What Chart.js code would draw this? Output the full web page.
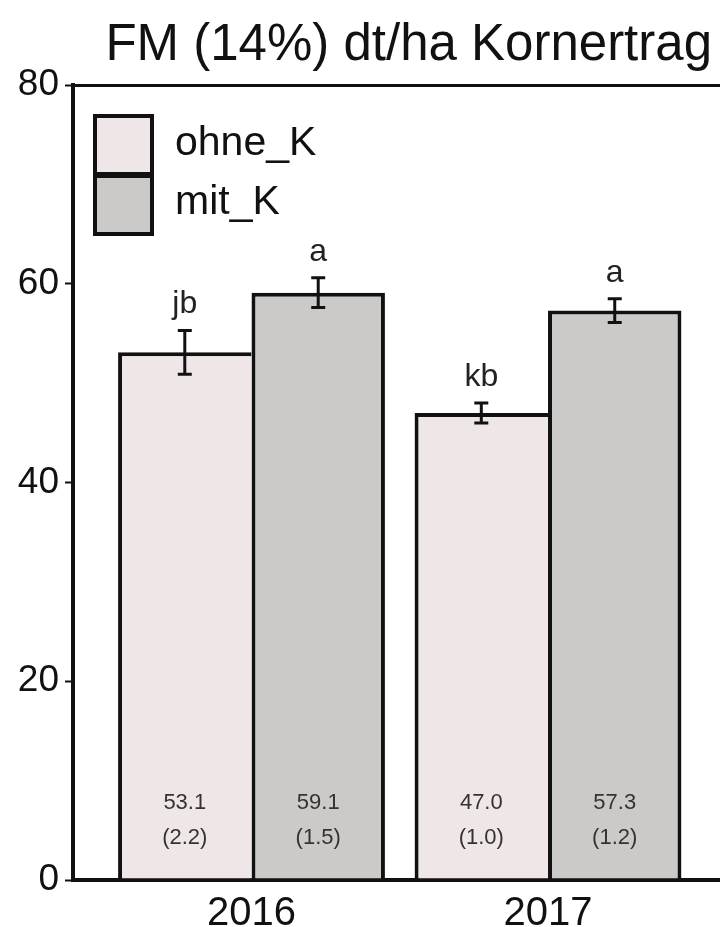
<!DOCTYPE html>
<html>
<head>
    <title>FM (14%) dt/ha Kornertrag</title>
    <script src="https://cdn.jsdelivr.net/npm/chart.js"></script>
    <style>
        body { margin: 0; background: #fff; }
        #wrap { width: 720px; height: 927px; }
    </style>
</head>
<body>
    <div id="wrap"><canvas id="yield-chart"></canvas></div>

    <script>
        // data
        const title = 'FM (14%) dt/ha Kornertrag';
        const years = ['2016', '2017'];
        const yearPos = [1, 2];
        const ohneK = [53.1, 47.0];
        const mitK = [59.1, 57.3];
        const ohneErr = [2.2, 1.0];
        const mitErr = [1.5, 1.2];
        const ohneLetters = ['jb', 'kb'];
        const mitLetters = ['a', 'a'];

        const FONT = "'Liberation Sans', Arial, sans-serif";

        // title sits right-aligned, a little in from the edge
        const topTitle = {
            id: 'topTitle',
            afterDraw(chart) {
                const ctx = chart.ctx;
                ctx.save();
                ctx.fillStyle = '#111';
                ctx.font = '51px ' + FONT;
                ctx.textAlign = 'right';
                ctx.textBaseline = 'alphabetic';
                ctx.fillText(title, chart.width - 8, 60);
                ctx.restore();
            }
        };

        // error bars, letters above them, value labels inside the bars
        const barExtras = {
            id: 'barExtras',
            afterDatasetsDraw(chart) {
                const ctx = chart.ctx;
                const y = chart.scales.y;
                const y0 = y.getPixelForValue(0);
                chart.data.datasets.forEach((ds, i) => {
                    const meta = chart.getDatasetMeta(i);
                    meta.data.forEach((bar, j) => {
                        const v = ds.data[j].y;
                        const e = ds.errors[j];
                        const top = y.getPixelForValue(v + e);
                        const bot = y.getPixelForValue(v - e);
                        const x = bar.x;
                        ctx.save();
                        ctx.strokeStyle = '#111';
                        ctx.lineWidth = 3;
                        ctx.beginPath();
                        ctx.moveTo(x, top); ctx.lineTo(x, bot);
                        ctx.moveTo(x - 7, top); ctx.lineTo(x + 7, top);
                        ctx.moveTo(x - 7, bot); ctx.lineTo(x + 7, bot);
                        ctx.stroke();

                        ctx.fillStyle = '#222';
                        ctx.textAlign = 'center';
                        ctx.textBaseline = 'alphabetic';
                        ctx.font = '32px ' + FONT;
                        ctx.fillText(ds.letters[j], x, top - 17);

                        ctx.fillStyle = '#333';
                        ctx.textBaseline = 'middle';
                        ctx.font = '22px ' + FONT;
                        ctx.fillText(v.toFixed(1), x, y0 - 77);
                        ctx.fillText('(' + e.toFixed(1) + ')', x, y0 - 42);
                        ctx.restore();
                    });
                });
            }
        };

        // stacked legend boxes like the original
        const boxLegend = {
            id: 'boxLegend',
            afterDraw(chart) {
                const ctx = chart.ctx;
                const area = chart.chartArea;
                const left = area.left + 22;
                const top = area.top + 31;
                const w = 57, h = 59;
                ctx.save();
                chart.data.datasets.forEach((ds, i) => {
                    ctx.fillStyle = ds.backgroundColor;
                    ctx.fillRect(left, top + i * h, w, h);
                    ctx.fillStyle = '#111';
                    ctx.font = '41px ' + FONT;
                    ctx.textAlign = 'left';
                    ctx.textBaseline = 'middle';
                    ctx.fillText(ds.label, left + 80, top + i * h + 28);
                });
                ctx.strokeStyle = '#111';
                ctx.lineWidth = 4;
                ctx.strokeRect(left, top, w, h * 2);
                ctx.lineWidth = 6;
                ctx.beginPath();
                ctx.moveTo(left, top + h); ctx.lineTo(left + w, top + h);
                ctx.stroke();
                ctx.restore();
            }
        };

        const ctx = document.getElementById('yield-chart').getContext('2d');
        const chart = new Chart(ctx, {
            type: 'bar',
            data: {
                datasets: [{
                    label: 'ohne_K',
                    data: yearPos.map((p, i) => ({ x: p, y: ohneK[i] })),
                    errors: ohneErr,
                    letters: ohneLetters,
                    backgroundColor: '#efe7e7',
                    borderColor: '#111',
                    borderWidth: { top: 4, left: 4, right: 0, bottom: 0 },
                    borderSkipped: false
                }, {
                    label: 'mit_K',
                    data: yearPos.map((p, i) => ({ x: p, y: mitK[i] })),
                    errors: mitErr,
                    letters: mitLetters,
                    backgroundColor: '#cccac9',
                    borderColor: '#111',
                    borderWidth: { top: 4, left: 4, right: 4, bottom: 0 },
                    borderSkipped: false
                }]
            },
            options: {
                responsive: true,
                maintainAspectRatio: false,
                animation: false,
                categoryPercentage: 0.9,
                barPercentage: 1.0,
                layout: { padding: { top: 85 } },
                plugins: {
                    legend: { display: false },
                    tooltip: { enabled: false },
                    title: { display: false }
                },
                scales: {
                    x: {
                        type: 'linear',
                        offset: false,
                        min: 0.398,
                        max: 2.58,
                        afterBuildTicks: s => { s.ticks = yearPos.map(v => ({ value: v })); },
                        afterFit: s => { s.height = 47; },
                        ticks: {
                            callback: v => years[yearPos.indexOf(v)],
                            color: '#111',
                            padding: 10,
                            maxRotation: 0,
                            font: { family: FONT, size: 40 }
                        },
                        grid: { display: false, drawTicks: false, offset: false },
                        border: { display: true, color: '#111', width: 4 }
                    },
                    y: {
                        min: 0,
                        max: 80,
                        afterFit: s => { s.width = 73; },
                        ticks: {
                            stepSize: 20,
                            color: '#111',
                            padding: 6,
                            font: { family: FONT, size: 37 }
                        },
                        grid: {
                            color: c => c.tick && c.tick.value === 80 ? '#111' : 'rgba(0,0,0,0)',
                            lineWidth: 3,
                            tickColor: '#111',
                            tickLength: 8,
                            tickWidth: 2
                        },
                        border: { display: true, color: '#111', width: 4 }
                    }
                }
            },
            plugins: [barExtras, boxLegend, topTitle]
        });
    </script>
</body>
</html>
